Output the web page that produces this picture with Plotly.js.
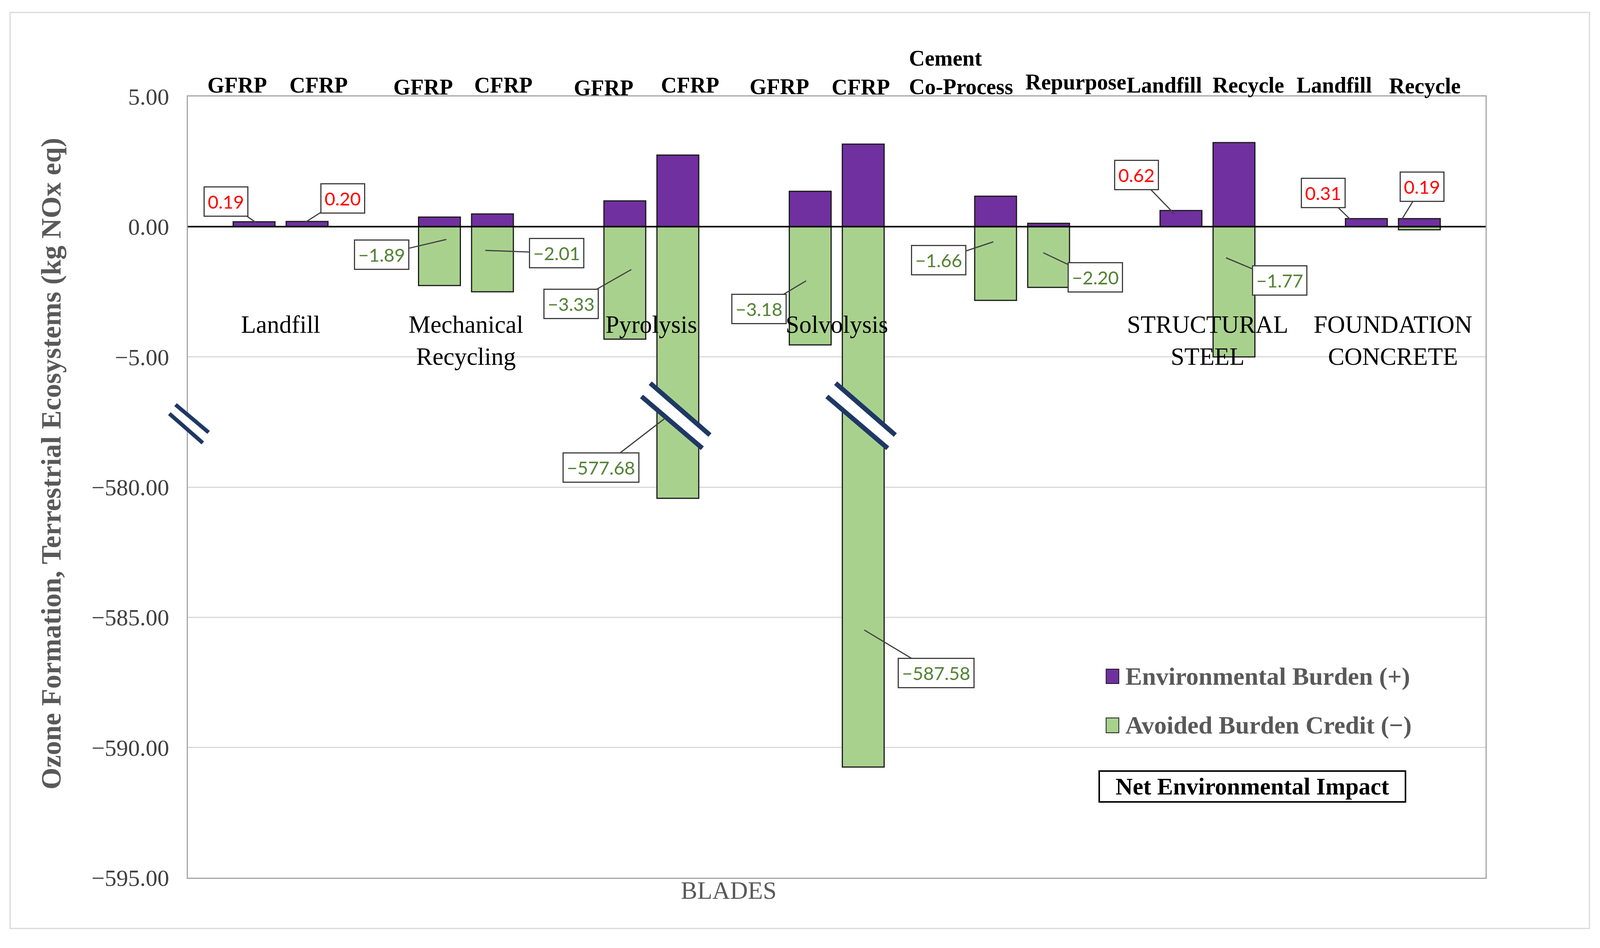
<!DOCTYPE html>
<html>
<head>
<meta charset="utf-8">
<script src="https://cdn.plot.ly/plotly-3.0.1.min.js"></script>
<style>
html,body{margin:0;padding:0;background:#ffffff;overflow:hidden;}
#chart{position:absolute;left:0;top:0;}
</style>
</head>
<body>
<div id="chart"></div>
<script>
// ---------------- DATA ----------------
const groupNames = ['Landfill', 'Mechanical<br>Recycling', 'Pyrolysis', 'Solvolysis', '', 'STRUCTURAL<br>STEEL', 'FOUNDATION<br>CONCRETE'];
const bottomLabel = 'BLADES';
const barNames = ['GFRP', 'CFRP', 'GFRP', 'CFRP', 'GFRP', 'CFRP', 'GFRP', 'CFRP',
                  'Cement<br>Co-Process', 'Repurpose', 'Landfill', 'Recycle', 'Landfill', 'Recycle'];
const burden = [0.19, 0.20, 0.37, 0.49, 0.99, 2.75, 1.36, 3.17, 1.17, 0.13, 0.62, 3.23, 0.31, 0.31];
const credit = [null, null, -2.26, -2.50, -4.32, -580.43, -4.54, -590.75, -2.83, -2.33, null, -5.00, null, -0.12];
const netImpact = [0.19, 0.20, -1.89, -2.01, -3.33, -577.68, -3.18, -587.58, -1.66, -2.20, 0.62, -1.77, 0.31, 0.19];
const yTickValues = [5, 0, -5, -580, -585, -590, -595];
const seriesNames = ['Environmental Burden (+)', 'Avoided Burden Credit (\u2212)'];
const netLegendText = 'Net Environmental Impact';
const yTitle = 'Ozone Formation, Terrestrial Ecosystems (kg NOx eq)';

// ---------------- AXIS BREAK (between -5 and -580) ----------------
const BREAK_SHIFT = 570;
function toAxis(v) { return (v === null) ? null : (v < -100 ? v + BREAK_SHIFT : v); }
function fmt(v) { const s = Math.abs(v).toFixed(2); return v < 0 ? '\u2212' + s : s; }

// ---------------- SIZE: fill the viewport ----------------
const W0 = 4402, H0 = 2427;
const VW = window.innerWidth || W0, VH = window.innerHeight || H0;
const sx = VW / W0, sy = VH / H0;
const chartDiv = document.getElementById('chart');
chartDiv.style.width = VW + 'px';
chartDiv.style.height = VH + 'px';

// ---------------- STYLE / LAYOUT CONSTANTS ----------------
const PURPLE = '#7030A0', GREEN = '#A9D18E', NAVY = '#1F3864';
const SERIF = '"Liberation Serif", "Times New Roman", serif';
const LABELFONT = 'Lato, "Liberation Sans", sans-serif';
const SUBOFF = 0.143, BARW = 0.2255;
const xPos = barNames.map((_, i) => Math.floor(i / 2) + (i % 2 === 0 ? -SUBOFF : SUBOFF));
const fs = v => Math.round(v * sy);

// callout geometry: [dx from bar centre, y (axis units) of pointer tip, ax px, ay px] (ref px)
const callout = [
  [0.008, 0.17, -81, -53], [-0.006, 0.185, 101, -60],
  [0.037, -0.49, -178, 39], [-0.039, -0.91, 196, 7],
  [0.035, -1.645, -166, 88], [-0.067, -7.345, -177, 127],
  [-0.022, -2.08, -130, 72], [0.006, -15.49, 197, 110],
  [-0.012, -0.58, -151, 47], [-0.029, -1.0, 143, 63],
  [-0.035, 0.485, -104, -100], [-0.043, -1.195, 148, 58],
  [-0.086, 0.275, -75, -68], [-0.094, 0.29, 55, -83]
];
// top label placement: [x (axis units), yshift px, xanchor]
const topPos = [
  [-0.235, 29, 'center'], [0.204, 29, 'center'], [0.769, 24, 'center'], [1.202, 29, 'center'],
  [1.741, 22, 'center'], [2.208, 29, 'center'], [2.690, 25, 'center'], [3.129, 24, 'center'],
  [3.386, 62, 'left'], [4.290, 37, 'center'], [4.767, 29, 'center'], [5.220, 29, 'center'],
  [5.684, 29, 'center'], [6.173, 27, 'center']
];

// ---------------- TRACES ----------------
const traces = [
  {
    type: 'bar', name: seriesNames[1], x: xPos, y: credit.map(toAxis), width: BARW,
    marker: {color: GREEN, line: {color: '#1a1a1a', width: 3}},
    customdata: credit, hovertemplate: '%{customdata:.2f}<extra></extra>', showlegend: false
  },
  {
    type: 'bar', name: seriesNames[0], x: xPos, y: burden.map(toAxis), width: BARW,
    marker: {color: PURPLE, line: {color: '#1a1a1a', width: 3}},
    customdata: burden, hovertemplate: '%{customdata:.2f}<extra></extra>', showlegend: false
  }
];

// ---------------- ANNOTATIONS ----------------
const annotations = [];
netImpact.forEach((v, i) => {
  const c = callout[i];
  annotations.push({
    x: xPos[i] + c[0], y: c[1], xref: 'x', yref: 'y', ax: c[2] * sx, ay: c[3] * sy,
    text: fmt(v), showarrow: true, arrowhead: 0, arrowwidth: 3, arrowcolor: '#404040', standoff: 0,
    font: {family: LABELFONT, size: fs(47), color: v < 0 ? '#548235' : '#FF0000'},
    bgcolor: '#ffffff', bordercolor: '#404040', borderwidth: 3, borderpad: 8
  });
});
barNames.forEach((t, i) => {
  const p = topPos[i];
  annotations.push({
    x: p[0], xref: 'x', y: 1, yref: 'paper', yanchor: 'middle', yshift: p[1] * sy, xanchor: p[2], align: 'left',
    text: '<b>' + t + '</b>', showarrow: false,
    font: {family: SERIF, size: fs(56), color: '#000000'}
  });
});
groupNames.forEach((t, g) => {
  if (!t) return;
  const twoLine = t.indexOf('<br>') >= 0;
  annotations.push({
    x: g, xref: 'x', y: twoLine ? -4.375 : -3.76, yref: 'y', yanchor: 'middle',
    text: t, showarrow: false, font: {family: SERIF, size: fs(63), color: '#000000'}
  });
});
annotations.push({x: 0.4168, xref: 'paper', y: -0.0165, yref: 'paper', yanchor: 'middle', showarrow: false,
  text: bottomLabel, font: {family: SERIF, size: fs(63), color: '#595959'}});
annotations.push({x: -0.1053, xref: 'paper', y: 0.53, yref: 'paper', textangle: -90, showarrow: false,
  xanchor: 'center', yanchor: 'middle',
  text: '<b>' + yTitle + '</b>', font: {family: SERIF, size: fs(72), color: '#595959'}});
annotations.push({x: 0.7218, xref: 'paper', y: 0.258, yref: 'paper', xanchor: 'left', yanchor: 'middle', showarrow: false,
  text: '<b>' + seriesNames[0] + '</b>', font: {family: SERIF, size: fs(64), color: '#595959'}});
annotations.push({x: 0.7218, xref: 'paper', y: 0.195, yref: 'paper', xanchor: 'left', yanchor: 'middle', showarrow: false,
  text: '<b>' + seriesNames[1] + '</b>', font: {family: SERIF, size: fs(64), color: '#595959'}});
annotations.push({x: 0.8202, xref: 'paper', y: 0.117, yref: 'paper', xanchor: 'center', yanchor: 'middle', showarrow: false,
  text: '<b>' + netLegendText + '</b>', font: {family: SERIF, size: fs(61), color: '#000000'},
  bgcolor: '#ffffff', bordercolor: '#000000', borderwidth: 4, borderpad: 4, width: 830 * sx});

// ---------------- SHAPES ----------------
const shapes = [];
shapes.push({type: 'rect', xref: 'paper', yref: 'paper', x0: -0.137, x1: 1.0801, y0: -0.065, y1: 1.1075,
  line: {color: '#d9d9d9', width: 3}, layer: 'below'});
shapes.push({type: 'line', xref: 'paper', yref: 'y', x0: 0, x1: 1, y0: 0, y1: 0, line: {color: '#000000', width: 4}, layer: 'above'});
shapes.push({type: 'rect', xref: 'paper', yref: 'paper', x0: 0.7076, x1: 0.7174, y0: 0.2485, y1: 0.267,
  fillcolor: PURPLE, line: {color: '#1a1a1a', width: 2}});
shapes.push({type: 'rect', xref: 'paper', yref: 'paper', x0: 0.7076, x1: 0.7174, y0: 0.1855, y1: 0.2045,
  fillcolor: GREEN, line: {color: '#1a1a1a', width: 2}});
shapes.push({type: 'line', xref: 'paper', yref: 'paper', x0: -0.0119, y0: 0.5998, x1: 0.0137, y1: 0.5633,
  line: {color: '#ffffff', width: 22}});
shapes.push({type: 'line', xref: 'paper', yref: 'paper', x0: -0.00952, y0: 0.6055, x1: 0.01597, y1: 0.570,
  line: {color: NAVY, width: 10}});
shapes.push({type: 'line', xref: 'paper', yref: 'paper', x0: -0.01429, y0: 0.594, x1: 0.01149, y1: 0.5565,
  line: {color: NAVY, width: 10}});
credit.forEach((v, i) => {
  if (v === null || v > -100) return;
  const xc = xPos[i];
  shapes.push({type: 'line', xref: 'x', yref: 'y', x0: xc - 0.1725, y0: -6.265, x1: xc + 0.1525, y1: -8.255,
    line: {color: '#ffffff', width: 30}});
  shapes.push({type: 'line', xref: 'x', yref: 'y', x0: xc - 0.149, y0: -6.01, x1: xc + 0.173, y1: -8.0,
    line: {color: NAVY, width: 12}});
  shapes.push({type: 'line', xref: 'x', yref: 'y', x0: xc - 0.196, y0: -6.52, x1: xc + 0.132, y1: -8.51,
    line: {color: NAVY, width: 12}});
});

// ---------------- LAYOUT ----------------
const layout = {
  width: VW, height: VH,
  margin: {l: 517 * sx, r: 315 * sx, t: 247 * sy, b: 180 * sy, pad: 0},
  paper_bgcolor: '#ffffff', plot_bgcolor: '#ffffff',
  barmode: 'overlay', showlegend: false,
  font: {family: SERIF},
  xaxis: {range: [-0.5, 6.5], showgrid: false, zeroline: false, showticklabels: false, ticks: '',
    showline: true, mirror: true, linecolor: '#a6a6a6', linewidth: 3, fixedrange: true},
  yaxis: {range: [-25, 5], tickvals: yTickValues.map(toAxis), ticktext: yTickValues.map(fmt),
    tickfont: {family: SERIF, size: fs(60), color: '#404040'},
    ticks: 'outside', ticklen: Math.round(35 * sx), tickcolor: 'rgba(0,0,0,0)', tickwidth: 1,
    showgrid: true, gridcolor: '#d9d9d9', gridwidth: 3, zeroline: false,
    showline: true, mirror: true, linecolor: '#a6a6a6', linewidth: 3, fixedrange: true},
  annotations: annotations,
  shapes: shapes
};

Plotly.newPlot('chart', traces, layout, {displayModeBar: false, staticPlot: true});
</script>
</body>
</html>
